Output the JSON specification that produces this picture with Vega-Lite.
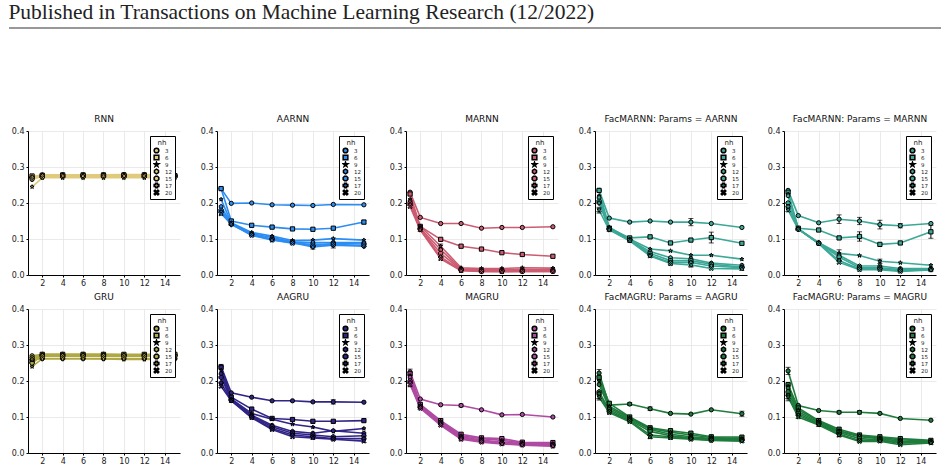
{
"$schema":"https://vega.github.io/schema/vega-lite/v6.json",
"background":"white",
"padding":{"left":8,"top":1,"right":5,"bottom":2},
"datasets":{"d":[
{"p":"RNN","nh":3,"x":1,"y":0.27},{"p":"RNN","nh":3,"x":2,"y":0.278},{"p":"RNN","nh":3,"x":4,"y":0.278},{"p":"RNN","nh":3,"x":6,"y":0.278},{"p":"RNN","nh":3,"x":8,"y":0.278},{"p":"RNN","nh":3,"x":10,"y":0.279},{"p":"RNN","nh":3,"x":12,"y":0.279},{"p":"RNN","nh":3,"x":15,"y":0.277},
{"p":"RNN","nh":6,"x":1,"y":0.275},{"p":"RNN","nh":6,"x":2,"y":0.277},{"p":"RNN","nh":6,"x":4,"y":0.278},{"p":"RNN","nh":6,"x":6,"y":0.278},{"p":"RNN","nh":6,"x":8,"y":0.278},{"p":"RNN","nh":6,"x":10,"y":0.278},{"p":"RNN","nh":6,"x":12,"y":0.278},{"p":"RNN","nh":6,"x":15,"y":0.276},
{"p":"RNN","nh":9,"x":1,"y":0.245},{"p":"RNN","nh":9,"x":2,"y":0.27},{"p":"RNN","nh":9,"x":4,"y":0.27},{"p":"RNN","nh":9,"x":6,"y":0.27},{"p":"RNN","nh":9,"x":8,"y":0.27},{"p":"RNN","nh":9,"x":10,"y":0.27},{"p":"RNN","nh":9,"x":12,"y":0.27},{"p":"RNN","nh":9,"x":15,"y":0.27},
{"p":"RNN","nh":12,"x":1,"y":0.265},{"p":"RNN","nh":12,"x":2,"y":0.276},{"p":"RNN","nh":12,"x":4,"y":0.277},{"p":"RNN","nh":12,"x":6,"y":0.277},{"p":"RNN","nh":12,"x":8,"y":0.277},{"p":"RNN","nh":12,"x":10,"y":0.277},{"p":"RNN","nh":12,"x":12,"y":0.277},{"p":"RNN","nh":12,"x":15,"y":0.275},
{"p":"RNN","nh":15,"x":1,"y":0.27},{"p":"RNN","nh":15,"x":2,"y":0.272},{"p":"RNN","nh":15,"x":4,"y":0.273},{"p":"RNN","nh":15,"x":6,"y":0.273},{"p":"RNN","nh":15,"x":8,"y":0.273},{"p":"RNN","nh":15,"x":10,"y":0.273},{"p":"RNN","nh":15,"x":12,"y":0.273},{"p":"RNN","nh":15,"x":15,"y":0.273},
{"p":"RNN","nh":17,"x":1,"y":0.272},{"p":"RNN","nh":17,"x":2,"y":0.276},{"p":"RNN","nh":17,"x":4,"y":0.276},{"p":"RNN","nh":17,"x":6,"y":0.276},{"p":"RNN","nh":17,"x":8,"y":0.276},{"p":"RNN","nh":17,"x":10,"y":0.276},{"p":"RNN","nh":17,"x":12,"y":0.276},{"p":"RNN","nh":17,"x":15,"y":0.276},
{"p":"RNN","nh":20,"x":1,"y":0.268},{"p":"RNN","nh":20,"x":2,"y":0.274},{"p":"RNN","nh":20,"x":4,"y":0.275},{"p":"RNN","nh":20,"x":6,"y":0.275},{"p":"RNN","nh":20,"x":8,"y":0.275},{"p":"RNN","nh":20,"x":10,"y":0.275},{"p":"RNN","nh":20,"x":12,"y":0.275},{"p":"RNN","nh":20,"x":15,"y":0.274},

{"p":"AARNN","nh":3,"x":1,"y":0.24},{"p":"AARNN","nh":3,"x":2,"y":0.199},{"p":"AARNN","nh":3,"x":4,"y":0.2},{"p":"AARNN","nh":3,"x":6,"y":0.195},{"p":"AARNN","nh":3,"x":8,"y":0.194},{"p":"AARNN","nh":3,"x":10,"y":0.193},{"p":"AARNN","nh":3,"x":12,"y":0.196},{"p":"AARNN","nh":3,"x":15,"y":0.195},
{"p":"AARNN","nh":6,"x":1,"y":0.24},{"p":"AARNN","nh":6,"x":2,"y":0.15},{"p":"AARNN","nh":6,"x":4,"y":0.138},{"p":"AARNN","nh":6,"x":6,"y":0.133},{"p":"AARNN","nh":6,"x":8,"y":0.128},{"p":"AARNN","nh":6,"x":10,"y":0.127},{"p":"AARNN","nh":6,"x":12,"y":0.13},{"p":"AARNN","nh":6,"x":15,"y":0.147,"e":0.005},
{"p":"AARNN","nh":9,"x":1,"y":0.21},{"p":"AARNN","nh":9,"x":2,"y":0.145},{"p":"AARNN","nh":9,"x":4,"y":0.118},{"p":"AARNN","nh":9,"x":6,"y":0.108},{"p":"AARNN","nh":9,"x":8,"y":0.096},{"p":"AARNN","nh":9,"x":10,"y":0.097},{"p":"AARNN","nh":9,"x":12,"y":0.101},{"p":"AARNN","nh":9,"x":15,"y":0.097},
{"p":"AARNN","nh":12,"x":1,"y":0.19},{"p":"AARNN","nh":12,"x":2,"y":0.143},{"p":"AARNN","nh":12,"x":4,"y":0.115},{"p":"AARNN","nh":12,"x":6,"y":0.104},{"p":"AARNN","nh":12,"x":8,"y":0.092},{"p":"AARNN","nh":12,"x":10,"y":0.09},{"p":"AARNN","nh":12,"x":12,"y":0.09},{"p":"AARNN","nh":12,"x":15,"y":0.09},
{"p":"AARNN","nh":15,"x":1,"y":0.18},{"p":"AARNN","nh":15,"x":2,"y":0.142},{"p":"AARNN","nh":15,"x":4,"y":0.113},{"p":"AARNN","nh":15,"x":6,"y":0.1},{"p":"AARNN","nh":15,"x":8,"y":0.092},{"p":"AARNN","nh":15,"x":10,"y":0.08},{"p":"AARNN","nh":15,"x":12,"y":0.088},{"p":"AARNN","nh":15,"x":15,"y":0.086},
{"p":"AARNN","nh":17,"x":1,"y":0.175},{"p":"AARNN","nh":17,"x":2,"y":0.14},{"p":"AARNN","nh":17,"x":4,"y":0.112},{"p":"AARNN","nh":17,"x":6,"y":0.098},{"p":"AARNN","nh":17,"x":8,"y":0.09},{"p":"AARNN","nh":17,"x":10,"y":0.078,"e":0.006},{"p":"AARNN","nh":17,"x":12,"y":0.083,"e":0.008},{"p":"AARNN","nh":17,"x":15,"y":0.08},
{"p":"AARNN","nh":20,"x":1,"y":0.17},{"p":"AARNN","nh":20,"x":2,"y":0.142},{"p":"AARNN","nh":20,"x":4,"y":0.11},{"p":"AARNN","nh":20,"x":6,"y":0.097},{"p":"AARNN","nh":20,"x":8,"y":0.088},{"p":"AARNN","nh":20,"x":10,"y":0.085},{"p":"AARNN","nh":20,"x":12,"y":0.085},{"p":"AARNN","nh":20,"x":15,"y":0.082},

{"p":"MARNN","nh":3,"x":1,"y":0.23},{"p":"MARNN","nh":3,"x":2,"y":0.16},{"p":"MARNN","nh":3,"x":4,"y":0.143},{"p":"MARNN","nh":3,"x":6,"y":0.143},{"p":"MARNN","nh":3,"x":8,"y":0.13},{"p":"MARNN","nh":3,"x":10,"y":0.132},{"p":"MARNN","nh":3,"x":12,"y":0.132},{"p":"MARNN","nh":3,"x":15,"y":0.134},
{"p":"MARNN","nh":6,"x":1,"y":0.225},{"p":"MARNN","nh":6,"x":2,"y":0.135},{"p":"MARNN","nh":6,"x":4,"y":0.099},{"p":"MARNN","nh":6,"x":6,"y":0.08},{"p":"MARNN","nh":6,"x":8,"y":0.072},{"p":"MARNN","nh":6,"x":10,"y":0.062},{"p":"MARNN","nh":6,"x":12,"y":0.057},{"p":"MARNN","nh":6,"x":15,"y":0.052},
{"p":"MARNN","nh":9,"x":1,"y":0.21},{"p":"MARNN","nh":9,"x":2,"y":0.135},{"p":"MARNN","nh":9,"x":4,"y":0.08,"e":0.006},{"p":"MARNN","nh":9,"x":6,"y":0.02},{"p":"MARNN","nh":9,"x":8,"y":0.018},{"p":"MARNN","nh":9,"x":10,"y":0.018},{"p":"MARNN","nh":9,"x":12,"y":0.02},{"p":"MARNN","nh":9,"x":15,"y":0.019},
{"p":"MARNN","nh":12,"x":1,"y":0.205},{"p":"MARNN","nh":12,"x":2,"y":0.13},{"p":"MARNN","nh":12,"x":4,"y":0.07},{"p":"MARNN","nh":12,"x":6,"y":0.017},{"p":"MARNN","nh":12,"x":8,"y":0.015},{"p":"MARNN","nh":12,"x":10,"y":0.015},{"p":"MARNN","nh":12,"x":12,"y":0.015},{"p":"MARNN","nh":12,"x":15,"y":0.015},
{"p":"MARNN","nh":15,"x":1,"y":0.2},{"p":"MARNN","nh":15,"x":2,"y":0.128},{"p":"MARNN","nh":15,"x":4,"y":0.06},{"p":"MARNN","nh":15,"x":6,"y":0.015},{"p":"MARNN","nh":15,"x":8,"y":0.012},{"p":"MARNN","nh":15,"x":10,"y":0.012},{"p":"MARNN","nh":15,"x":12,"y":0.012},{"p":"MARNN","nh":15,"x":15,"y":0.012},
{"p":"MARNN","nh":17,"x":1,"y":0.195},{"p":"MARNN","nh":17,"x":2,"y":0.127},{"p":"MARNN","nh":17,"x":4,"y":0.05},{"p":"MARNN","nh":17,"x":6,"y":0.013},{"p":"MARNN","nh":17,"x":8,"y":0.01},{"p":"MARNN","nh":17,"x":10,"y":0.01},{"p":"MARNN","nh":17,"x":12,"y":0.01},{"p":"MARNN","nh":17,"x":15,"y":0.01},
{"p":"MARNN","nh":20,"x":1,"y":0.19},{"p":"MARNN","nh":20,"x":2,"y":0.125},{"p":"MARNN","nh":20,"x":4,"y":0.045},{"p":"MARNN","nh":20,"x":6,"y":0.012},{"p":"MARNN","nh":20,"x":8,"y":0.01},{"p":"MARNN","nh":20,"x":10,"y":0.009},{"p":"MARNN","nh":20,"x":12,"y":0.01},{"p":"MARNN","nh":20,"x":15,"y":0.01},

{"p":"FA","nh":3,"x":1,"y":0.235},{"p":"FA","nh":3,"x":2,"y":0.158},{"p":"FA","nh":3,"x":4,"y":0.147},{"p":"FA","nh":3,"x":6,"y":0.15},{"p":"FA","nh":3,"x":8,"y":0.147},{"p":"FA","nh":3,"x":10,"y":0.147,"e":0.01},{"p":"FA","nh":3,"x":12,"y":0.143},{"p":"FA","nh":3,"x":15,"y":0.132},
{"p":"FA","nh":6,"x":1,"y":0.235},{"p":"FA","nh":6,"x":2,"y":0.13},{"p":"FA","nh":6,"x":4,"y":0.103},{"p":"FA","nh":6,"x":6,"y":0.106},{"p":"FA","nh":6,"x":8,"y":0.089},{"p":"FA","nh":6,"x":10,"y":0.097},{"p":"FA","nh":6,"x":12,"y":0.104,"e":0.015},{"p":"FA","nh":6,"x":15,"y":0.088},
{"p":"FA","nh":9,"x":1,"y":0.22},{"p":"FA","nh":9,"x":2,"y":0.133},{"p":"FA","nh":9,"x":4,"y":0.1},{"p":"FA","nh":9,"x":6,"y":0.072},{"p":"FA","nh":9,"x":8,"y":0.067},{"p":"FA","nh":9,"x":10,"y":0.055},{"p":"FA","nh":9,"x":12,"y":0.055},{"p":"FA","nh":9,"x":15,"y":0.044},
{"p":"FA","nh":12,"x":1,"y":0.215},{"p":"FA","nh":12,"x":2,"y":0.13},{"p":"FA","nh":12,"x":4,"y":0.098},{"p":"FA","nh":12,"x":6,"y":0.065},{"p":"FA","nh":12,"x":8,"y":0.048},{"p":"FA","nh":12,"x":10,"y":0.045},{"p":"FA","nh":12,"x":12,"y":0.033},{"p":"FA","nh":12,"x":15,"y":0.027},
{"p":"FA","nh":15,"x":1,"y":0.205},{"p":"FA","nh":15,"x":2,"y":0.128},{"p":"FA","nh":15,"x":4,"y":0.097},{"p":"FA","nh":15,"x":6,"y":0.06},{"p":"FA","nh":15,"x":8,"y":0.04},{"p":"FA","nh":15,"x":10,"y":0.04},{"p":"FA","nh":15,"x":12,"y":0.03},{"p":"FA","nh":15,"x":15,"y":0.022},
{"p":"FA","nh":17,"x":1,"y":0.2},{"p":"FA","nh":17,"x":2,"y":0.127},{"p":"FA","nh":17,"x":4,"y":0.096},{"p":"FA","nh":17,"x":6,"y":0.055},{"p":"FA","nh":17,"x":8,"y":0.035,"e":0.008},{"p":"FA","nh":17,"x":10,"y":0.035},{"p":"FA","nh":17,"x":12,"y":0.025},{"p":"FA","nh":17,"x":15,"y":0.02},
{"p":"FA","nh":20,"x":1,"y":0.18,"e":0.008},{"p":"FA","nh":20,"x":2,"y":0.125},{"p":"FA","nh":20,"x":4,"y":0.095},{"p":"FA","nh":20,"x":6,"y":0.053},{"p":"FA","nh":20,"x":8,"y":0.032},{"p":"FA","nh":20,"x":10,"y":0.028,"e":0.006},{"p":"FA","nh":20,"x":12,"y":0.018},{"p":"FA","nh":20,"x":15,"y":0.017},

{"p":"FM","nh":3,"x":1,"y":0.235},{"p":"FM","nh":3,"x":2,"y":0.165},{"p":"FM","nh":3,"x":4,"y":0.145},{"p":"FM","nh":3,"x":6,"y":0.155,"e":0.012},{"p":"FM","nh":3,"x":8,"y":0.15,"e":0.01},{"p":"FM","nh":3,"x":10,"y":0.14,"e":0.012},{"p":"FM","nh":3,"x":12,"y":0.137,"e":0.006},{"p":"FM","nh":3,"x":15,"y":0.143},
{"p":"FM","nh":6,"x":1,"y":0.23},{"p":"FM","nh":6,"x":2,"y":0.13},{"p":"FM","nh":6,"x":4,"y":0.125},{"p":"FM","nh":6,"x":6,"y":0.103},{"p":"FM","nh":6,"x":8,"y":0.107,"e":0.013},{"p":"FM","nh":6,"x":10,"y":0.085},{"p":"FM","nh":6,"x":12,"y":0.089},{"p":"FM","nh":6,"x":15,"y":0.12,"e":0.018},
{"p":"FM","nh":9,"x":1,"y":0.225},{"p":"FM","nh":9,"x":2,"y":0.128},{"p":"FM","nh":9,"x":4,"y":0.09},{"p":"FM","nh":9,"x":6,"y":0.06,"e":0.01},{"p":"FM","nh":9,"x":8,"y":0.054},{"p":"FM","nh":9,"x":10,"y":0.038,"e":0.006},{"p":"FM","nh":9,"x":12,"y":0.034},{"p":"FM","nh":9,"x":15,"y":0.027},
{"p":"FM","nh":12,"x":1,"y":0.22},{"p":"FM","nh":12,"x":2,"y":0.128},{"p":"FM","nh":12,"x":4,"y":0.09},{"p":"FM","nh":12,"x":6,"y":0.055},{"p":"FM","nh":12,"x":8,"y":0.025},{"p":"FM","nh":12,"x":10,"y":0.025},{"p":"FM","nh":12,"x":12,"y":0.018},{"p":"FM","nh":12,"x":15,"y":0.018},
{"p":"FM","nh":15,"x":1,"y":0.2},{"p":"FM","nh":15,"x":2,"y":0.128},{"p":"FM","nh":15,"x":4,"y":0.088},{"p":"FM","nh":15,"x":6,"y":0.05},{"p":"FM","nh":15,"x":8,"y":0.02},{"p":"FM","nh":15,"x":10,"y":0.02},{"p":"FM","nh":15,"x":12,"y":0.015},{"p":"FM","nh":15,"x":15,"y":0.016},
{"p":"FM","nh":17,"x":1,"y":0.19},{"p":"FM","nh":17,"x":2,"y":0.127},{"p":"FM","nh":17,"x":4,"y":0.088},{"p":"FM","nh":17,"x":6,"y":0.04},{"p":"FM","nh":17,"x":8,"y":0.017},{"p":"FM","nh":17,"x":10,"y":0.017},{"p":"FM","nh":17,"x":12,"y":0.012},{"p":"FM","nh":17,"x":15,"y":0.015},
{"p":"FM","nh":20,"x":1,"y":0.18},{"p":"FM","nh":20,"x":2,"y":0.127},{"p":"FM","nh":20,"x":4,"y":0.087},{"p":"FM","nh":20,"x":6,"y":0.035},{"p":"FM","nh":20,"x":8,"y":0.015},{"p":"FM","nh":20,"x":10,"y":0.015},{"p":"FM","nh":20,"x":12,"y":0.01},{"p":"FM","nh":20,"x":15,"y":0.014},

{"p":"GRU","nh":3,"x":1,"y":0.27},{"p":"GRU","nh":3,"x":2,"y":0.274},{"p":"GRU","nh":3,"x":4,"y":0.274},{"p":"GRU","nh":3,"x":6,"y":0.274},{"p":"GRU","nh":3,"x":8,"y":0.274},{"p":"GRU","nh":3,"x":10,"y":0.273},{"p":"GRU","nh":3,"x":12,"y":0.273},{"p":"GRU","nh":3,"x":15,"y":0.273},
{"p":"GRU","nh":6,"x":1,"y":0.255},{"p":"GRU","nh":6,"x":2,"y":0.274},{"p":"GRU","nh":6,"x":4,"y":0.274},{"p":"GRU","nh":6,"x":6,"y":0.274},{"p":"GRU","nh":6,"x":8,"y":0.274},{"p":"GRU","nh":6,"x":10,"y":0.274},{"p":"GRU","nh":6,"x":12,"y":0.274},{"p":"GRU","nh":6,"x":15,"y":0.274},
{"p":"GRU","nh":9,"x":1,"y":0.24},{"p":"GRU","nh":9,"x":2,"y":0.262},{"p":"GRU","nh":9,"x":4,"y":0.262},{"p":"GRU","nh":9,"x":6,"y":0.262},{"p":"GRU","nh":9,"x":8,"y":0.261},{"p":"GRU","nh":9,"x":10,"y":0.26},{"p":"GRU","nh":9,"x":12,"y":0.26},{"p":"GRU","nh":9,"x":15,"y":0.261},
{"p":"GRU","nh":12,"x":1,"y":0.265},{"p":"GRU","nh":12,"x":2,"y":0.272},{"p":"GRU","nh":12,"x":4,"y":0.272},{"p":"GRU","nh":12,"x":6,"y":0.272},{"p":"GRU","nh":12,"x":8,"y":0.272},{"p":"GRU","nh":12,"x":10,"y":0.271},{"p":"GRU","nh":12,"x":12,"y":0.271},{"p":"GRU","nh":12,"x":15,"y":0.271},
{"p":"GRU","nh":15,"x":1,"y":0.25},{"p":"GRU","nh":15,"x":2,"y":0.27},{"p":"GRU","nh":15,"x":4,"y":0.27},{"p":"GRU","nh":15,"x":6,"y":0.27},{"p":"GRU","nh":15,"x":8,"y":0.27},{"p":"GRU","nh":15,"x":10,"y":0.27},{"p":"GRU","nh":15,"x":12,"y":0.27},{"p":"GRU","nh":15,"x":15,"y":0.27},
{"p":"GRU","nh":17,"x":1,"y":0.26},{"p":"GRU","nh":17,"x":2,"y":0.262},{"p":"GRU","nh":17,"x":4,"y":0.262},{"p":"GRU","nh":17,"x":6,"y":0.262},{"p":"GRU","nh":17,"x":8,"y":0.262},{"p":"GRU","nh":17,"x":10,"y":0.262},{"p":"GRU","nh":17,"x":12,"y":0.262},{"p":"GRU","nh":17,"x":15,"y":0.262},
{"p":"GRU","nh":20,"x":1,"y":0.262},{"p":"GRU","nh":20,"x":2,"y":0.268},{"p":"GRU","nh":20,"x":4,"y":0.268},{"p":"GRU","nh":20,"x":6,"y":0.268},{"p":"GRU","nh":20,"x":8,"y":0.268},{"p":"GRU","nh":20,"x":10,"y":0.268},{"p":"GRU","nh":20,"x":12,"y":0.268},{"p":"GRU","nh":20,"x":15,"y":0.268},

{"p":"AAGRU","nh":3,"x":1,"y":0.24,"e":0.006},{"p":"AAGRU","nh":3,"x":2,"y":0.167},{"p":"AAGRU","nh":3,"x":4,"y":0.155},{"p":"AAGRU","nh":3,"x":6,"y":0.145},{"p":"AAGRU","nh":3,"x":8,"y":0.145},{"p":"AAGRU","nh":3,"x":10,"y":0.142},{"p":"AAGRU","nh":3,"x":12,"y":0.142,"e":0.006},{"p":"AAGRU","nh":3,"x":15,"y":0.141},
{"p":"AAGRU","nh":6,"x":1,"y":0.238},{"p":"AAGRU","nh":6,"x":2,"y":0.155},{"p":"AAGRU","nh":6,"x":4,"y":0.122},{"p":"AAGRU","nh":6,"x":6,"y":0.096},{"p":"AAGRU","nh":6,"x":8,"y":0.093},{"p":"AAGRU","nh":6,"x":10,"y":0.088},{"p":"AAGRU","nh":6,"x":12,"y":0.088},{"p":"AAGRU","nh":6,"x":15,"y":0.09},
{"p":"AAGRU","nh":9,"x":1,"y":0.23},{"p":"AAGRU","nh":9,"x":2,"y":0.15},{"p":"AAGRU","nh":9,"x":4,"y":0.11},{"p":"AAGRU","nh":9,"x":6,"y":0.094},{"p":"AAGRU","nh":9,"x":8,"y":0.08},{"p":"AAGRU","nh":9,"x":10,"y":0.072},{"p":"AAGRU","nh":9,"x":12,"y":0.06},{"p":"AAGRU","nh":9,"x":15,"y":0.068},
{"p":"AAGRU","nh":12,"x":1,"y":0.22},{"p":"AAGRU","nh":12,"x":2,"y":0.148},{"p":"AAGRU","nh":12,"x":4,"y":0.105},{"p":"AAGRU","nh":12,"x":6,"y":0.077},{"p":"AAGRU","nh":12,"x":8,"y":0.06},{"p":"AAGRU","nh":12,"x":10,"y":0.055},{"p":"AAGRU","nh":12,"x":12,"y":0.062},{"p":"AAGRU","nh":12,"x":15,"y":0.055},
{"p":"AAGRU","nh":15,"x":1,"y":0.21},{"p":"AAGRU","nh":15,"x":2,"y":0.147},{"p":"AAGRU","nh":15,"x":4,"y":0.102},{"p":"AAGRU","nh":15,"x":6,"y":0.073},{"p":"AAGRU","nh":15,"x":8,"y":0.055},{"p":"AAGRU","nh":15,"x":10,"y":0.05},{"p":"AAGRU","nh":15,"x":12,"y":0.045},{"p":"AAGRU","nh":15,"x":15,"y":0.048},
{"p":"AAGRU","nh":17,"x":1,"y":0.195},{"p":"AAGRU","nh":17,"x":2,"y":0.146},{"p":"AAGRU","nh":17,"x":4,"y":0.1},{"p":"AAGRU","nh":17,"x":6,"y":0.068},{"p":"AAGRU","nh":17,"x":8,"y":0.05},{"p":"AAGRU","nh":17,"x":10,"y":0.045},{"p":"AAGRU","nh":17,"x":12,"y":0.04},{"p":"AAGRU","nh":17,"x":15,"y":0.04},
{"p":"AAGRU","nh":20,"x":1,"y":0.185},{"p":"AAGRU","nh":20,"x":2,"y":0.145},{"p":"AAGRU","nh":20,"x":4,"y":0.098},{"p":"AAGRU","nh":20,"x":6,"y":0.065},{"p":"AAGRU","nh":20,"x":8,"y":0.045},{"p":"AAGRU","nh":20,"x":10,"y":0.042},{"p":"AAGRU","nh":20,"x":12,"y":0.038},{"p":"AAGRU","nh":20,"x":15,"y":0.033},

{"p":"MAGRU","nh":3,"x":1,"y":0.225,"e":0.008},{"p":"MAGRU","nh":3,"x":2,"y":0.15},{"p":"MAGRU","nh":3,"x":4,"y":0.134},{"p":"MAGRU","nh":3,"x":6,"y":0.132,"e":0.004},{"p":"MAGRU","nh":3,"x":8,"y":0.12},{"p":"MAGRU","nh":3,"x":10,"y":0.106},{"p":"MAGRU","nh":3,"x":12,"y":0.107},{"p":"MAGRU","nh":3,"x":15,"y":0.1},
{"p":"MAGRU","nh":6,"x":1,"y":0.22},{"p":"MAGRU","nh":6,"x":2,"y":0.135},{"p":"MAGRU","nh":6,"x":4,"y":0.09,"e":0.005},{"p":"MAGRU","nh":6,"x":6,"y":0.052},{"p":"MAGRU","nh":6,"x":8,"y":0.042},{"p":"MAGRU","nh":6,"x":10,"y":0.04},{"p":"MAGRU","nh":6,"x":12,"y":0.03},{"p":"MAGRU","nh":6,"x":15,"y":0.029},
{"p":"MAGRU","nh":9,"x":1,"y":0.215},{"p":"MAGRU","nh":9,"x":2,"y":0.132},{"p":"MAGRU","nh":9,"x":4,"y":0.088},{"p":"MAGRU","nh":9,"x":6,"y":0.048},{"p":"MAGRU","nh":9,"x":8,"y":0.04},{"p":"MAGRU","nh":9,"x":10,"y":0.035},{"p":"MAGRU","nh":9,"x":12,"y":0.028},{"p":"MAGRU","nh":9,"x":15,"y":0.026},
{"p":"MAGRU","nh":12,"x":1,"y":0.21},{"p":"MAGRU","nh":12,"x":2,"y":0.13},{"p":"MAGRU","nh":12,"x":4,"y":0.085},{"p":"MAGRU","nh":12,"x":6,"y":0.045},{"p":"MAGRU","nh":12,"x":8,"y":0.036},{"p":"MAGRU","nh":12,"x":10,"y":0.03},{"p":"MAGRU","nh":12,"x":12,"y":0.026},{"p":"MAGRU","nh":12,"x":15,"y":0.024},
{"p":"MAGRU","nh":15,"x":1,"y":0.2},{"p":"MAGRU","nh":15,"x":2,"y":0.128},{"p":"MAGRU","nh":15,"x":4,"y":0.082},{"p":"MAGRU","nh":15,"x":6,"y":0.042},{"p":"MAGRU","nh":15,"x":8,"y":0.034},{"p":"MAGRU","nh":15,"x":10,"y":0.028},{"p":"MAGRU","nh":15,"x":12,"y":0.025},{"p":"MAGRU","nh":15,"x":15,"y":0.022},
{"p":"MAGRU","nh":17,"x":1,"y":0.195},{"p":"MAGRU","nh":17,"x":2,"y":0.126},{"p":"MAGRU","nh":17,"x":4,"y":0.08},{"p":"MAGRU","nh":17,"x":6,"y":0.04},{"p":"MAGRU","nh":17,"x":8,"y":0.032},{"p":"MAGRU","nh":17,"x":10,"y":0.027},{"p":"MAGRU","nh":17,"x":12,"y":0.023},{"p":"MAGRU","nh":17,"x":15,"y":0.02},
{"p":"MAGRU","nh":20,"x":1,"y":0.19,"e":0.006},{"p":"MAGRU","nh":20,"x":2,"y":0.124},{"p":"MAGRU","nh":20,"x":4,"y":0.077},{"p":"MAGRU","nh":20,"x":6,"y":0.038},{"p":"MAGRU","nh":20,"x":8,"y":0.03},{"p":"MAGRU","nh":20,"x":10,"y":0.025},{"p":"MAGRU","nh":20,"x":12,"y":0.022},{"p":"MAGRU","nh":20,"x":15,"y":0.019},

{"p":"GA","nh":3,"x":1,"y":0.222,"e":0.01},{"p":"GA","nh":3,"x":2,"y":0.133},{"p":"GA","nh":3,"x":4,"y":0.136,"e":0.004},{"p":"GA","nh":3,"x":6,"y":0.123,"e":0.005},{"p":"GA","nh":3,"x":8,"y":0.11},{"p":"GA","nh":3,"x":10,"y":0.108},{"p":"GA","nh":3,"x":12,"y":0.12},{"p":"GA","nh":3,"x":15,"y":0.109,"e":0.007},
{"p":"GA","nh":6,"x":1,"y":0.21},{"p":"GA","nh":6,"x":2,"y":0.138},{"p":"GA","nh":6,"x":4,"y":0.1},{"p":"GA","nh":6,"x":6,"y":0.07},{"p":"GA","nh":6,"x":8,"y":0.062},{"p":"GA","nh":6,"x":10,"y":0.055},{"p":"GA","nh":6,"x":12,"y":0.045},{"p":"GA","nh":6,"x":15,"y":0.044},
{"p":"GA","nh":9,"x":1,"y":0.2},{"p":"GA","nh":9,"x":2,"y":0.13},{"p":"GA","nh":9,"x":4,"y":0.098},{"p":"GA","nh":9,"x":6,"y":0.068},{"p":"GA","nh":9,"x":8,"y":0.058},{"p":"GA","nh":9,"x":10,"y":0.05},{"p":"GA","nh":9,"x":12,"y":0.043},{"p":"GA","nh":9,"x":15,"y":0.04},
{"p":"GA","nh":12,"x":1,"y":0.19},{"p":"GA","nh":12,"x":2,"y":0.125},{"p":"GA","nh":12,"x":4,"y":0.095},{"p":"GA","nh":12,"x":6,"y":0.065},{"p":"GA","nh":12,"x":8,"y":0.052},{"p":"GA","nh":12,"x":10,"y":0.045},{"p":"GA","nh":12,"x":12,"y":0.04},{"p":"GA","nh":12,"x":15,"y":0.038},
{"p":"GA","nh":15,"x":1,"y":0.17},{"p":"GA","nh":15,"x":2,"y":0.12},{"p":"GA","nh":15,"x":4,"y":0.092},{"p":"GA","nh":15,"x":6,"y":0.06},{"p":"GA","nh":15,"x":8,"y":0.048},{"p":"GA","nh":15,"x":10,"y":0.042},{"p":"GA","nh":15,"x":12,"y":0.038},{"p":"GA","nh":15,"x":15,"y":0.036},
{"p":"GA","nh":17,"x":1,"y":0.165},{"p":"GA","nh":17,"x":2,"y":0.115},{"p":"GA","nh":17,"x":4,"y":0.09},{"p":"GA","nh":17,"x":6,"y":0.05,"e":0.01},{"p":"GA","nh":17,"x":8,"y":0.045,"e":0.005},{"p":"GA","nh":17,"x":10,"y":0.04},{"p":"GA","nh":17,"x":12,"y":0.036},{"p":"GA","nh":17,"x":15,"y":0.035},
{"p":"GA","nh":20,"x":1,"y":0.155,"e":0.008},{"p":"GA","nh":20,"x":2,"y":0.112},{"p":"GA","nh":20,"x":4,"y":0.087},{"p":"GA","nh":20,"x":6,"y":0.045},{"p":"GA","nh":20,"x":8,"y":0.042},{"p":"GA","nh":20,"x":10,"y":0.038},{"p":"GA","nh":20,"x":12,"y":0.035},{"p":"GA","nh":20,"x":15,"y":0.033},

{"p":"GM","nh":3,"x":1,"y":0.228,"e":0.01},{"p":"GM","nh":3,"x":2,"y":0.132},{"p":"GM","nh":3,"x":4,"y":0.118},{"p":"GM","nh":3,"x":6,"y":0.113,"e":0.004},{"p":"GM","nh":3,"x":8,"y":0.113,"e":0.005},{"p":"GM","nh":3,"x":10,"y":0.11},{"p":"GM","nh":3,"x":12,"y":0.096},{"p":"GM","nh":3,"x":15,"y":0.091},
{"p":"GM","nh":6,"x":1,"y":0.19},{"p":"GM","nh":6,"x":2,"y":0.125},{"p":"GM","nh":6,"x":4,"y":0.09},{"p":"GM","nh":6,"x":6,"y":0.066},{"p":"GM","nh":6,"x":8,"y":0.05},{"p":"GM","nh":6,"x":10,"y":0.045},{"p":"GM","nh":6,"x":12,"y":0.04},{"p":"GM","nh":6,"x":15,"y":0.035},
{"p":"GM","nh":9,"x":1,"y":0.185},{"p":"GM","nh":9,"x":2,"y":0.12},{"p":"GM","nh":9,"x":4,"y":0.088},{"p":"GM","nh":9,"x":6,"y":0.062},{"p":"GM","nh":9,"x":8,"y":0.048},{"p":"GM","nh":9,"x":10,"y":0.042},{"p":"GM","nh":9,"x":12,"y":0.037},{"p":"GM","nh":9,"x":15,"y":0.033},
{"p":"GM","nh":12,"x":1,"y":0.18},{"p":"GM","nh":12,"x":2,"y":0.115},{"p":"GM","nh":12,"x":4,"y":0.085},{"p":"GM","nh":12,"x":6,"y":0.06},{"p":"GM","nh":12,"x":8,"y":0.045},{"p":"GM","nh":12,"x":10,"y":0.04},{"p":"GM","nh":12,"x":12,"y":0.033},{"p":"GM","nh":12,"x":15,"y":0.032},
{"p":"GM","nh":15,"x":1,"y":0.17},{"p":"GM","nh":15,"x":2,"y":0.11},{"p":"GM","nh":15,"x":4,"y":0.082},{"p":"GM","nh":15,"x":6,"y":0.057},{"p":"GM","nh":15,"x":8,"y":0.04},{"p":"GM","nh":15,"x":10,"y":0.037},{"p":"GM","nh":15,"x":12,"y":0.03},{"p":"GM","nh":15,"x":15,"y":0.03},
{"p":"GM","nh":17,"x":1,"y":0.16},{"p":"GM","nh":17,"x":2,"y":0.105},{"p":"GM","nh":17,"x":4,"y":0.08},{"p":"GM","nh":17,"x":6,"y":0.053,"e":0.008},{"p":"GM","nh":17,"x":8,"y":0.035},{"p":"GM","nh":17,"x":10,"y":0.035},{"p":"GM","nh":17,"x":12,"y":0.027},{"p":"GM","nh":17,"x":15,"y":0.03},
{"p":"GM","nh":20,"x":1,"y":0.155,"e":0.01},{"p":"GM","nh":20,"x":2,"y":0.1},{"p":"GM","nh":20,"x":4,"y":0.078},{"p":"GM","nh":20,"x":6,"y":0.05},{"p":"GM","nh":20,"x":8,"y":0.032},{"p":"GM","nh":20,"x":10,"y":0.033},{"p":"GM","nh":20,"x":12,"y":0.023},{"p":"GM","nh":20,"x":15,"y":0.028}
]},
"vconcat":[
{"width":913,"height":81,
 "title":{"text":"Published in Transactions on Machine Learning Research (12/2022)","anchor":"start","font":"Liberation Serif","fontSize":21.5,"fontWeight":"normal","color":"#222","offset":4},
 "data":{"values":[{"a":-0.0208,"b":1,"v":1}]},
 "mark":{"type":"rule","color":"#333","strokeWidth":1.2},
 "encoding":{"x":{"field":"a","type":"quantitative","scale":{"domain":[0,1]},"axis":null},"x2":{"field":"b"},"y":{"field":"v","type":"quantitative","scale":{"domain":[0,1]},"axis":null}}},
{"hconcat":[
{"title":"RNN","width":152,"height":144,"data":{"name":"d"},"transform":[{"filter":"datum.p=='RNN'"}],
 "encoding":{"x":{"field":"x","type":"quantitative","scale":{"domain":[0.6,15.5],"nice":false,"zero":false},"axis":{"values":[2,4,6,8,10,12,14],"title":null}},"y":{"field":"y","type":"quantitative","scale":{"domain":[0,0.4],"nice":false},"axis":{"values":[0,0.1,0.2,0.3,0.4],"format":".1f","title":null}}},
 "layer":[
  {"mark":{"type":"line","color":"#E0CB7C","strokeWidth":1.6},"encoding":{"detail":{"field":"nh"}}},
  {"transform":[{"filter":"isValid(datum.e)"}],"mark":{"type":"errorbar","color":"#000","ticks":true},"encoding":{"yError":{"field":"e"}}},
  {"mark":{"type":"point","filled":true,"fill":"#E0CB7C","stroke":"#000","strokeWidth":1,"size":18,"opacity":1},"encoding":{"shape":{"field":"nh","type":"nominal","scale":{"domain":[3,6,9,12,15,17,20],"range":["circle","square","M0,-1L0.2245,-0.309L0.951,-0.309L0.363,0.118L0.588,0.809L0,0.382L-0.588,0.809L-0.363,0.118L-0.951,-0.309L-0.2245,-0.309Z","M0,-1L0.866,-0.5L0.866,0.5L0,1L-0.866,0.5L-0.866,-0.5Z","M-0.414,-1L0.414,-1L1,-0.414L1,0.414L0.414,1L-0.414,1L-1,0.414L-1,-0.414Z","cross","M-1,-0.6L-0.6,-1L0,-0.4L0.6,-1L1,-0.6L0.4,0L1,0.6L0.6,1L0,0.4L-0.6,1L-1,0.6L-0.4,0Z"]},"legend":{"title":"nh"}}}}]},
{"title":"AARNN","width":152,"height":144,"data":{"name":"d"},"transform":[{"filter":"datum.p=='AARNN'"}],
 "encoding":{"x":{"field":"x","type":"quantitative","scale":{"domain":[0.6,15.5],"nice":false,"zero":false},"axis":{"values":[2,4,6,8,10,12,14],"title":null}},"y":{"field":"y","type":"quantitative","scale":{"domain":[0,0.4],"nice":false},"axis":{"values":[0,0.1,0.2,0.3,0.4],"format":".1f","title":null}}},
 "layer":[
  {"mark":{"type":"line","color":"#2C8DF2","strokeWidth":1.6},"encoding":{"detail":{"field":"nh"}}},
  {"transform":[{"filter":"isValid(datum.e)"}],"mark":{"type":"errorbar","color":"#000","ticks":true},"encoding":{"yError":{"field":"e"}}},
  {"mark":{"type":"point","filled":true,"fill":"#2C8DF2","stroke":"#000","strokeWidth":1,"size":18,"opacity":1},"encoding":{"shape":{"field":"nh","type":"nominal","scale":{"domain":[3,6,9,12,15,17,20],"range":["circle","square","M0,-1L0.2245,-0.309L0.951,-0.309L0.363,0.118L0.588,0.809L0,0.382L-0.588,0.809L-0.363,0.118L-0.951,-0.309L-0.2245,-0.309Z","M0,-1L0.866,-0.5L0.866,0.5L0,1L-0.866,0.5L-0.866,-0.5Z","M-0.414,-1L0.414,-1L1,-0.414L1,0.414L0.414,1L-0.414,1L-1,0.414L-1,-0.414Z","cross","M-1,-0.6L-0.6,-1L0,-0.4L0.6,-1L1,-0.6L0.4,0L1,0.6L0.6,1L0,0.4L-0.6,1L-1,0.6L-0.4,0Z"]},"legend":{"title":"nh"}}}}]},
{"title":"MARNN","width":152,"height":144,"data":{"name":"d"},"transform":[{"filter":"datum.p=='MARNN'"}],
 "encoding":{"x":{"field":"x","type":"quantitative","scale":{"domain":[0.6,15.5],"nice":false,"zero":false},"axis":{"values":[2,4,6,8,10,12,14],"title":null}},"y":{"field":"y","type":"quantitative","scale":{"domain":[0,0.4],"nice":false},"axis":{"values":[0,0.1,0.2,0.3,0.4],"format":".1f","title":null}}},
 "layer":[
  {"mark":{"type":"line","color":"#CC5C72","strokeWidth":1.6},"encoding":{"detail":{"field":"nh"}}},
  {"transform":[{"filter":"isValid(datum.e)"}],"mark":{"type":"errorbar","color":"#000","ticks":true},"encoding":{"yError":{"field":"e"}}},
  {"mark":{"type":"point","filled":true,"fill":"#CC5C72","stroke":"#000","strokeWidth":1,"size":18,"opacity":1},"encoding":{"shape":{"field":"nh","type":"nominal","scale":{"domain":[3,6,9,12,15,17,20],"range":["circle","square","M0,-1L0.2245,-0.309L0.951,-0.309L0.363,0.118L0.588,0.809L0,0.382L-0.588,0.809L-0.363,0.118L-0.951,-0.309L-0.2245,-0.309Z","M0,-1L0.866,-0.5L0.866,0.5L0,1L-0.866,0.5L-0.866,-0.5Z","M-0.414,-1L0.414,-1L1,-0.414L1,0.414L0.414,1L-0.414,1L-1,0.414L-1,-0.414Z","cross","M-1,-0.6L-0.6,-1L0,-0.4L0.6,-1L1,-0.6L0.4,0L1,0.6L0.6,1L0,0.4L-0.6,1L-1,0.6L-0.4,0Z"]},"legend":{"title":"nh"}}}}]},
{"title":"FacMARNN: Params = AARNN","width":152,"height":144,"data":{"name":"d"},"transform":[{"filter":"datum.p=='FA'"}],
 "encoding":{"x":{"field":"x","type":"quantitative","scale":{"domain":[0.6,15.5],"nice":false,"zero":false},"axis":{"values":[2,4,6,8,10,12,14],"title":null}},"y":{"field":"y","type":"quantitative","scale":{"domain":[0,0.4],"nice":false},"axis":{"values":[0,0.1,0.2,0.3,0.4],"format":".1f","title":null}}},
 "layer":[
  {"mark":{"type":"line","color":"#3CA897","strokeWidth":1.6},"encoding":{"detail":{"field":"nh"}}},
  {"transform":[{"filter":"isValid(datum.e)"}],"mark":{"type":"errorbar","color":"#000","ticks":true},"encoding":{"yError":{"field":"e"}}},
  {"mark":{"type":"point","filled":true,"fill":"#3CA897","stroke":"#000","strokeWidth":1,"size":18,"opacity":1},"encoding":{"shape":{"field":"nh","type":"nominal","scale":{"domain":[3,6,9,12,15,17,20],"range":["circle","square","M0,-1L0.2245,-0.309L0.951,-0.309L0.363,0.118L0.588,0.809L0,0.382L-0.588,0.809L-0.363,0.118L-0.951,-0.309L-0.2245,-0.309Z","M0,-1L0.866,-0.5L0.866,0.5L0,1L-0.866,0.5L-0.866,-0.5Z","M-0.414,-1L0.414,-1L1,-0.414L1,0.414L0.414,1L-0.414,1L-1,0.414L-1,-0.414Z","cross","M-1,-0.6L-0.6,-1L0,-0.4L0.6,-1L1,-0.6L0.4,0L1,0.6L0.6,1L0,0.4L-0.6,1L-1,0.6L-0.4,0Z"]},"legend":{"title":"nh"}}}}]},
{"title":"FacMARNN: Params = MARNN","width":152,"height":144,"data":{"name":"d"},"transform":[{"filter":"datum.p=='FM'"}],
 "encoding":{"x":{"field":"x","type":"quantitative","scale":{"domain":[0.6,15.5],"nice":false,"zero":false},"axis":{"values":[2,4,6,8,10,12,14],"title":null}},"y":{"field":"y","type":"quantitative","scale":{"domain":[0,0.4],"nice":false},"axis":{"values":[0,0.1,0.2,0.3,0.4],"format":".1f","title":null}}},
 "layer":[
  {"mark":{"type":"line","color":"#3CA897","strokeWidth":1.6},"encoding":{"detail":{"field":"nh"}}},
  {"transform":[{"filter":"isValid(datum.e)"}],"mark":{"type":"errorbar","color":"#000","ticks":true},"encoding":{"yError":{"field":"e"}}},
  {"mark":{"type":"point","filled":true,"fill":"#3CA897","stroke":"#000","strokeWidth":1,"size":18,"opacity":1},"encoding":{"shape":{"field":"nh","type":"nominal","scale":{"domain":[3,6,9,12,15,17,20],"range":["circle","square","M0,-1L0.2245,-0.309L0.951,-0.309L0.363,0.118L0.588,0.809L0,0.382L-0.588,0.809L-0.363,0.118L-0.951,-0.309L-0.2245,-0.309Z","M0,-1L0.866,-0.5L0.866,0.5L0,1L-0.866,0.5L-0.866,-0.5Z","M-0.414,-1L0.414,-1L1,-0.414L1,0.414L0.414,1L-0.414,1L-1,0.414L-1,-0.414Z","cross","M-1,-0.6L-0.6,-1L0,-0.4L0.6,-1L1,-0.6L0.4,0L1,0.6L0.6,1L0,0.4L-0.6,1L-1,0.6L-0.4,0Z"]},"legend":{"title":"nh"}}}}]}
],"resolve":{"scale":{"shape":"independent"},"legend":{"shape":"independent"}}},
{"hconcat":[
{"title":"GRU","width":152,"height":144,"data":{"name":"d"},"transform":[{"filter":"datum.p=='GRU'"}],
 "encoding":{"x":{"field":"x","type":"quantitative","scale":{"domain":[0.6,15.5],"nice":false,"zero":false},"axis":{"values":[2,4,6,8,10,12,14],"title":null}},"y":{"field":"y","type":"quantitative","scale":{"domain":[0,0.4],"nice":false},"axis":{"values":[0,0.1,0.2,0.3,0.4],"format":".1f","title":null}}},
 "layer":[
  {"mark":{"type":"line","color":"#AFA845","strokeWidth":1.6},"encoding":{"detail":{"field":"nh"}}},
  {"transform":[{"filter":"isValid(datum.e)"}],"mark":{"type":"errorbar","color":"#000","ticks":true},"encoding":{"yError":{"field":"e"}}},
  {"mark":{"type":"point","filled":true,"fill":"#AFA845","stroke":"#000","strokeWidth":1,"size":18,"opacity":1},"encoding":{"shape":{"field":"nh","type":"nominal","scale":{"domain":[3,6,9,12,15,17,20],"range":["circle","square","M0,-1L0.2245,-0.309L0.951,-0.309L0.363,0.118L0.588,0.809L0,0.382L-0.588,0.809L-0.363,0.118L-0.951,-0.309L-0.2245,-0.309Z","M0,-1L0.866,-0.5L0.866,0.5L0,1L-0.866,0.5L-0.866,-0.5Z","M-0.414,-1L0.414,-1L1,-0.414L1,0.414L0.414,1L-0.414,1L-1,0.414L-1,-0.414Z","cross","M-1,-0.6L-0.6,-1L0,-0.4L0.6,-1L1,-0.6L0.4,0L1,0.6L0.6,1L0,0.4L-0.6,1L-1,0.6L-0.4,0Z"]},"legend":{"title":"nh"}}}}]},
{"title":"AAGRU","width":152,"height":144,"data":{"name":"d"},"transform":[{"filter":"datum.p=='AAGRU'"}],
 "encoding":{"x":{"field":"x","type":"quantitative","scale":{"domain":[0.6,15.5],"nice":false,"zero":false},"axis":{"values":[2,4,6,8,10,12,14],"title":null}},"y":{"field":"y","type":"quantitative","scale":{"domain":[0,0.4],"nice":false},"axis":{"values":[0,0.1,0.2,0.3,0.4],"format":".1f","title":null}}},
 "layer":[
  {"mark":{"type":"line","color":"#302486","strokeWidth":1.6},"encoding":{"detail":{"field":"nh"}}},
  {"transform":[{"filter":"isValid(datum.e)"}],"mark":{"type":"errorbar","color":"#000","ticks":true},"encoding":{"yError":{"field":"e"}}},
  {"mark":{"type":"point","filled":true,"fill":"#302486","stroke":"#000","strokeWidth":1,"size":18,"opacity":1},"encoding":{"shape":{"field":"nh","type":"nominal","scale":{"domain":[3,6,9,12,15,17,20],"range":["circle","square","M0,-1L0.2245,-0.309L0.951,-0.309L0.363,0.118L0.588,0.809L0,0.382L-0.588,0.809L-0.363,0.118L-0.951,-0.309L-0.2245,-0.309Z","M0,-1L0.866,-0.5L0.866,0.5L0,1L-0.866,0.5L-0.866,-0.5Z","M-0.414,-1L0.414,-1L1,-0.414L1,0.414L0.414,1L-0.414,1L-1,0.414L-1,-0.414Z","cross","M-1,-0.6L-0.6,-1L0,-0.4L0.6,-1L1,-0.6L0.4,0L1,0.6L0.6,1L0,0.4L-0.6,1L-1,0.6L-0.4,0Z"]},"legend":{"title":"nh"}}}}]},
{"title":"MAGRU","width":152,"height":144,"data":{"name":"d"},"transform":[{"filter":"datum.p=='MAGRU'"}],
 "encoding":{"x":{"field":"x","type":"quantitative","scale":{"domain":[0.6,15.5],"nice":false,"zero":false},"axis":{"values":[2,4,6,8,10,12,14],"title":null}},"y":{"field":"y","type":"quantitative","scale":{"domain":[0,0.4],"nice":false},"axis":{"values":[0,0.1,0.2,0.3,0.4],"format":".1f","title":null}}},
 "layer":[
  {"mark":{"type":"line","color":"#B04BA3","strokeWidth":1.6},"encoding":{"detail":{"field":"nh"}}},
  {"transform":[{"filter":"isValid(datum.e)"}],"mark":{"type":"errorbar","color":"#000","ticks":true},"encoding":{"yError":{"field":"e"}}},
  {"mark":{"type":"point","filled":true,"fill":"#B04BA3","stroke":"#000","strokeWidth":1,"size":18,"opacity":1},"encoding":{"shape":{"field":"nh","type":"nominal","scale":{"domain":[3,6,9,12,15,17,20],"range":["circle","square","M0,-1L0.2245,-0.309L0.951,-0.309L0.363,0.118L0.588,0.809L0,0.382L-0.588,0.809L-0.363,0.118L-0.951,-0.309L-0.2245,-0.309Z","M0,-1L0.866,-0.5L0.866,0.5L0,1L-0.866,0.5L-0.866,-0.5Z","M-0.414,-1L0.414,-1L1,-0.414L1,0.414L0.414,1L-0.414,1L-1,0.414L-1,-0.414Z","cross","M-1,-0.6L-0.6,-1L0,-0.4L0.6,-1L1,-0.6L0.4,0L1,0.6L0.6,1L0,0.4L-0.6,1L-1,0.6L-0.4,0Z"]},"legend":{"title":"nh"}}}}]},
{"title":"FacMAGRU: Params = AAGRU","width":152,"height":144,"data":{"name":"d"},"transform":[{"filter":"datum.p=='GA'"}],
 "encoding":{"x":{"field":"x","type":"quantitative","scale":{"domain":[0.6,15.5],"nice":false,"zero":false},"axis":{"values":[2,4,6,8,10,12,14],"title":null}},"y":{"field":"y","type":"quantitative","scale":{"domain":[0,0.4],"nice":false},"axis":{"values":[0,0.1,0.2,0.3,0.4],"format":".1f","title":null}}},
 "layer":[
  {"mark":{"type":"line","color":"#1F7C3D","strokeWidth":1.6},"encoding":{"detail":{"field":"nh"}}},
  {"transform":[{"filter":"isValid(datum.e)"}],"mark":{"type":"errorbar","color":"#000","ticks":true},"encoding":{"yError":{"field":"e"}}},
  {"mark":{"type":"point","filled":true,"fill":"#1F7C3D","stroke":"#000","strokeWidth":1,"size":18,"opacity":1},"encoding":{"shape":{"field":"nh","type":"nominal","scale":{"domain":[3,6,9,12,15,17,20],"range":["circle","square","M0,-1L0.2245,-0.309L0.951,-0.309L0.363,0.118L0.588,0.809L0,0.382L-0.588,0.809L-0.363,0.118L-0.951,-0.309L-0.2245,-0.309Z","M0,-1L0.866,-0.5L0.866,0.5L0,1L-0.866,0.5L-0.866,-0.5Z","M-0.414,-1L0.414,-1L1,-0.414L1,0.414L0.414,1L-0.414,1L-1,0.414L-1,-0.414Z","cross","M-1,-0.6L-0.6,-1L0,-0.4L0.6,-1L1,-0.6L0.4,0L1,0.6L0.6,1L0,0.4L-0.6,1L-1,0.6L-0.4,0Z"]},"legend":{"title":"nh"}}}}]},
{"title":"FacMAGRU: Params = MAGRU","width":152,"height":144,"data":{"name":"d"},"transform":[{"filter":"datum.p=='GM'"}],
 "encoding":{"x":{"field":"x","type":"quantitative","scale":{"domain":[0.6,15.5],"nice":false,"zero":false},"axis":{"values":[2,4,6,8,10,12,14],"title":null}},"y":{"field":"y","type":"quantitative","scale":{"domain":[0,0.4],"nice":false},"axis":{"values":[0,0.1,0.2,0.3,0.4],"format":".1f","title":null}}},
 "layer":[
  {"mark":{"type":"line","color":"#1F7C3D","strokeWidth":1.6},"encoding":{"detail":{"field":"nh"}}},
  {"transform":[{"filter":"isValid(datum.e)"}],"mark":{"type":"errorbar","color":"#000","ticks":true},"encoding":{"yError":{"field":"e"}}},
  {"mark":{"type":"point","filled":true,"fill":"#1F7C3D","stroke":"#000","strokeWidth":1,"size":18,"opacity":1},"encoding":{"shape":{"field":"nh","type":"nominal","scale":{"domain":[3,6,9,12,15,17,20],"range":["circle","square","M0,-1L0.2245,-0.309L0.951,-0.309L0.363,0.118L0.588,0.809L0,0.382L-0.588,0.809L-0.363,0.118L-0.951,-0.309L-0.2245,-0.309Z","M0,-1L0.866,-0.5L0.866,0.5L0,1L-0.866,0.5L-0.866,-0.5Z","M-0.414,-1L0.414,-1L1,-0.414L1,0.414L0.414,1L-0.414,1L-1,0.414L-1,-0.414Z","cross","M-1,-0.6L-0.6,-1L0,-0.4L0.6,-1L1,-0.6L0.4,0L1,0.6L0.6,1L0,0.4L-0.6,1L-1,0.6L-0.4,0Z"]},"legend":{"title":"nh"}}}}]}
],"resolve":{"scale":{"shape":"independent"},"legend":{"shape":"independent"}}}
],
"spacing":6,
"resolve":{"scale":{"shape":"independent"},"legend":{"shape":"independent"}},
"config":{
 "view":{"stroke":null},
 "font":"DejaVu Sans",
 "concat":{"spacing":20},
 "axis":{"grid":true,"gridColor":"#e4e4e4","gridWidth":0.8,"domainColor":"#000","domainWidth":1,"labelFontSize":8,"labelColor":"#222","tickSize":2,"tickColor":"#000","labelPadding":2},
 "title":{"fontSize":9,"fontWeight":"normal","font":"DejaVu Sans","color":"#111","offset":3},
 "legend":{"orient":"top-right","offset":5,"strokeColor":"#000","strokeWidth":1,"fillColor":"#fff","padding":3,"titleFontSize":7,"titleFontWeight":"normal","titleAnchor":"middle","titleColor":"#222","labelFontSize":5.5,"labelColor":"#222","symbolSize":22,"rowPadding":0,"clipHeight":7,"labelOffset":5,"titlePadding":1}
}
}
